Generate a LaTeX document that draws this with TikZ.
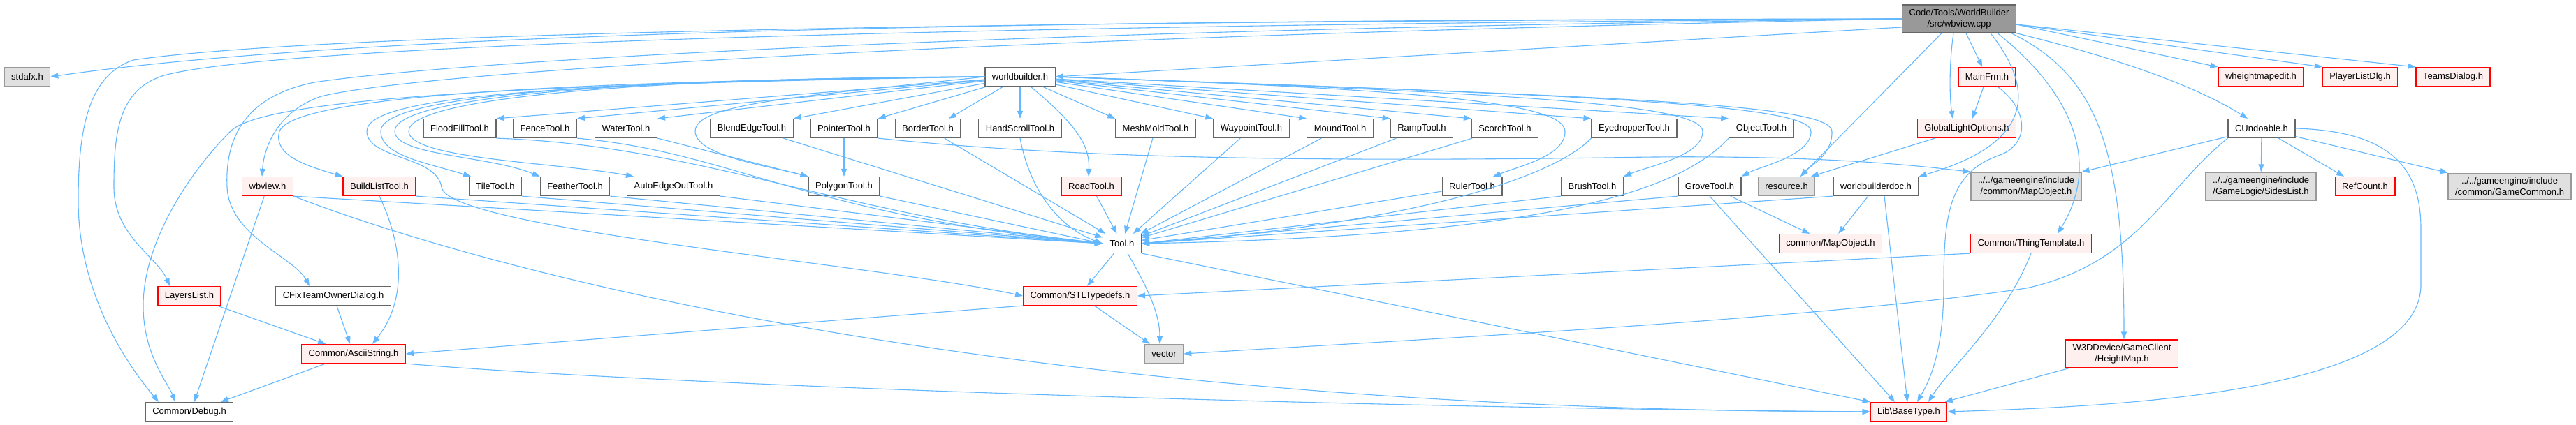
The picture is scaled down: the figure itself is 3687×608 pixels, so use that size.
\documentclass[tikz,border=0pt]{standalone}
\usepackage{fontspec}
\setmainfont{Liberation Sans}
\usetikzlibrary{arrows.meta}
\definecolor{depblue}{HTML}{63B8FF}
\definecolor{boxgray}{HTML}{666666}
\definecolor{boxred}{HTML}{FF0000}
\definecolor{boxpink}{HTML}{FFF0F0}
\definecolor{sysgray}{HTML}{999999}
\definecolor{sysfill}{HTML}{E0E0E0}
\definecolor{rootfill}{HTML}{999999}

\begin{document}
\begin{tikzpicture}[x=1pt,y=1pt,
  hdr/.style={draw=boxgray,fill=white,line width=1.2pt,minimum height=27pt,
    inner xsep=10pt,inner ysep=6pt,font=\fontsize{13}{16}\selectfont,align=center},
  redhdr/.style={hdr,draw=boxred,fill=boxpink},
  syshdr/.style={hdr,draw=sysgray,fill=sysfill},
  roothdr/.style={hdr,draw=boxgray,fill=rootfill},
  dep/.style={draw=depblue,line width=1.1pt,-{Triangle[length=11pt,width=8pt]}}]
\fill[white] (0,0) rectangle (3687,608);
\useasboundingbox (0,0) rectangle (3687,608);
% top rows
\node[roothdr] (wbv) at (2804,581) {Code/Tools/WorldBuilder\\/src/wbview.cpp};
\node[syshdr] (stdafx) at (39,498) {stdafx.h};
\node[hdr] (wbuilder) at (1460,498) {worldbuilder.h};
\node[redhdr] (mainfrm) at (2844,498) {MainFrm.h};
\node[redhdr] (wheight) at (3236,498) {wheightmapedit.h};
\node[redhdr] (plist) at (3378,498) {PlayerListDlg.h};
\node[redhdr] (teams) at (3511,498) {TeamsDialog.h};
% tools, first row
\node[hdr] (flood) at (658,424) {FloodFillTool.h};
\node[hdr] (fence) at (780,424) {FenceTool.h};
\node[hdr] (water) at (896,424) {WaterTool.h};
\node[hdr] (blend) at (1076,424) {BlendEdgeTool.h};
\node[hdr] (pointer) at (1208,424) {PointerTool.h};
\node[hdr] (border) at (1328,424) {BorderTool.h};
\node[hdr] (hscroll) at (1460,424) {HandScrollTool.h};
\node[hdr] (mesh) at (1654,424) {MeshMoldTool.h};
\node[hdr] (waypt) at (1791,424) {WaypointTool.h};
\node[hdr] (mound) at (1918,424) {MoundTool.h};
\node[hdr] (ramp) at (2035,424) {RampTool.h};
\node[hdr] (scorch) at (2154,424) {ScorchTool.h};
\node[hdr] (eyedrop) at (2339,424) {EyedropperTool.h};
\node[hdr] (object) at (2521,424) {ObjectTool.h};
\node[redhdr] (glight) at (2815,424) {GlobalLightOptions.h};
\node[hdr] (cundo) at (3237,424) {CUndoable.h};
% tools, second row
\node[redhdr] (wbviewh) at (383,341) {wbview.h};
\node[redhdr] (buildlist) at (543,341) {BuildListTool.h};
\node[hdr] (tile) at (709,341) {TileTool.h};
\node[hdr] (feather) at (823,341) {FeatherTool.h};
\node[hdr] (autoedge) at (964,341) {AutoEdgeOutTool.h};
\node[hdr] (polygon) at (1208,341) {PolygonTool.h};
\node[redhdr] (road) at (1562,341) {RoadTool.h};
\node[hdr] (ruler) at (2107,341) {RulerTool.h};
\node[hdr] (brush) at (2279,341) {BrushTool.h};
\node[hdr] (grove) at (2447,341) {GroveTool.h};
\node[syshdr] (resource) at (2557,341) {resource.h};
\node[hdr] (wbdoc) at (2685,341) {worldbuilderdoc.h};
\node[syshdr] (gemapobj) at (2900,341) {../../gameengine/include\\/common/MapObject.h};
\node[syshdr] (sides) at (3236,341) {../../gameengine/include\\/GameLogic/SidesList.h};
\node[redhdr] (refcount) at (3385,341) {RefCount.h};
\node[syshdr] (gamecommon) at (3592,341) {../../gameengine/include\\/common/GameCommon.h};
% lower rows
\node[hdr] (tool) at (1606,259) {Tool.h};
\node[redhdr] (mapobj) at (2620,259) {common/MapObject.h};
\node[redhdr] (thing) at (2907,259) {Common/ThingTemplate.h};
\node[redhdr] (layers) at (271,184) {LayersList.h};
\node[hdr] (cfix) at (477,184) {CFixTeamOwnerDialog.h};
\node[redhdr] (stl) at (1546,184) {Common/STLTypedefs.h};
\node[redhdr] (ascii) at (506,101) {Common/AsciiString.h};
\node[syshdr] (vector) at (1666,101) {vector};
\node[redhdr] (heightmap) at (3037,101) {W3DDevice/GameClient\\/HeightMap.h};
\node[hdr] (debug) at (271,18) {Common/Debug.h};
\node[redhdr] (basetype) at (2732,18) {Lib\textbackslash BaseType.h};
% from wbview.cpp
\draw[dep] (wbv.west) .. controls (1400,580) and (500,560) .. (stdafx.east);
\draw[dep] (wbv.west) .. controls (1400,578) and (450,560) .. (191,522) .. controls (125,500) and (112,420) .. (112,320) .. controls (112,200) and (170,100) .. ([xshift=-44pt]debug.north);
\draw[dep] (wbv.west) .. controls (1400,572) and (400,545) .. (235,500) .. controls (170,480) and (163,420) .. (163,340) .. controls (163,270) and (225,240) .. ([xshift=-28pt]layers.north);
\draw[dep] (wbv.west) .. controls (1400,565) and (650,520) .. (450,490) .. controls (350,470) and (322,410) .. (325,340) .. controls (328,270) and (420,240) .. ([xshift=-34pt]cfix.north);
\draw[dep] (wbv.west) .. controls (1400,555) and (600,505) .. (460,470) .. controls (400,450) and (378,400) .. ([xshift=-8pt]wbviewh.north);
\draw[dep] ([yshift=-12pt]wbv.west) -- (wbuilder.east);
\draw[dep] (wbv) -- (mainfrm);
\draw[dep] ([xshift=-8pt]wbv.south) .. controls (2790,520) and (2790,470) .. ([xshift=-20pt]glight.north);
\draw[dep] ([xshift=-25pt]wbv.south) -- ([xshift=20pt]resource.north);
\draw[dep] ([xshift=45pt]wbv.south) .. controls (2920,470) and (2900,400) .. (wbdoc.north east);
\draw[dep] ([xshift=55pt]wbv.south) .. controls (2960,480) and (3010,380) .. ([xshift=38pt]thing.north);
\draw[dep] ([xshift=75pt]wbv.south) .. controls (3000,500) and (3040,400) .. ([xshift=3pt]heightmap.north);
\draw[dep] (wbv.south east) .. controls (3050,520) and (3150,480) .. ([xshift=-20pt]cundo.north);
\foreach \t in {wheight,plist,teams}
  \draw[dep] ([yshift=-8pt]wbv.east) -- (\t.north west);
% from worldbuilder.h
\foreach \t in {flood,fence,water,blend,pointer}
  \draw[dep] (wbuilder) -- (\t.north east);
\draw[dep] (wbuilder) -- ([xshift=30pt]border.north);
\draw[dep] (wbuilder) -- (hscroll);
\foreach \t in {mesh,waypt,mound,ramp,scorch,eyedrop,object}
  \draw[dep] (wbuilder) -- (\t.north west);
\draw[dep] (wbuilder.west) .. controls (800,492) and (420,470) .. (400,420) .. controls (390,385) and (440,370) .. (buildlist.north west);
\draw[dep] (wbuilder.west) .. controls (850,494) and (545,470) .. (545,420) .. controls (545,385) and (610,375) .. ([xshift=-35pt]tile.north);
\draw[dep] (wbuilder.west) .. controls (900,496) and (565,470) .. (565,420) .. controls (565,385) and (700,385) .. (feather.north west);
\draw[dep] (wbuilder.west) .. controls (950,497) and (585,470) .. (585,420) .. controls (585,380) and (800,375) .. ([xshift=-57pt]autoedge.north);
\draw[dep] (wbuilder.west) .. controls (1150,470) and (995,460) .. (995,420) .. controls (995,385) and (1100,370) .. (polygon.north west);
\draw[dep] ([xshift=15pt]wbuilder.south) .. controls (1540,430) and (1560,400) .. ([xshift=-4pt]road.north);
\draw[dep] (wbuilder.east) .. controls (2050,480) and (2238,460) .. (2240,420) .. controls (2241,385) and (2175,370) .. ([xshift=30pt]ruler.north);
\draw[dep] (wbuilder.east) .. controls (2150,475) and (2435,460) .. (2437,420) .. controls (2438,385) and (2360,370) .. (brush.north east);
\draw[dep] (wbuilder.east) .. controls (2250,472) and (2590,460) .. (2592,420) .. controls (2593,385) and (2520,370) .. (grove.north east);
\draw[dep] (wbuilder.east) .. controls (2300,470) and (2620,460) .. (2622,420) .. controls (2623,385) and (2590,370) .. ([xshift=20pt]resource.north);
\draw[dep] (wbuilder.west) .. controls (800,490) and (525,470) .. (525,420) .. controls (525,380) and (625,385) .. (632,340) .. controls (640,280) and (1250,230) .. (stl.west);
\draw[dep] (wbuilder.west) .. controls (800,488) and (380,470) .. (330,420) .. controls (270,360) and (205,260) .. (205,170) .. controls (205,100) and (240,60) .. ([xshift=-20pt]debug.north);
% into Tool.h
\draw[dep] (flood.south east) .. controls (1000,400) and (1200,300) .. (tool.west);
\draw[dep] (fence.south east) .. controls (1050,390) and (1150,300) .. (tool.west);
\foreach \t in {tile,feather,autoedge,polygon,buildlist,wbviewh}
  \draw[dep] (\t.south east) -- (tool.west);
\draw[dep] (hscroll.south) .. controls (1475,330) and (1520,280) .. (tool.west);
\foreach \t in {blend,border,mesh,waypt,mound,ramp,scorch,road,ruler}
  \draw[dep] (\t) -- (tool);
\draw[dep] (eyedrop.south west) .. controls (2230,360) and (2050,290) .. (tool.east);
\draw[dep] (object.south west) .. controls (2400,330) and (2200,270) .. (tool.east);
\foreach \t in {brush,grove,wbdoc}
  \draw[dep] (\t.south west) -- (tool.east);
% other headers
\draw[dep] (pointer) -- (polygon);
\draw[dep] (water.south east) -- (polygon.north west);
\draw[dep] (pointer.south east) .. controls (1500,385) and (1800,375) .. (2300,382) .. controls (2600,388) and (2750,370) .. (gemapobj.north west);
\draw[dep] (glight) -- ([xshift=35pt]resource.north);
\draw[dep] (mainfrm) -- ([xshift=8pt]glight.north);
\draw[dep] ([xshift=15pt]mainfrm.south) .. controls (2905,450) and (2905,400) .. (2860,385) .. controls (2790,360) and (2782,300) .. (2782,200) .. controls (2782,100) and (2760,60) .. ([xshift=12pt]basetype.north);
\draw[dep] (wbdoc) -- (mapobj);
\draw[dep] ([xshift=12pt]wbdoc.south) -- ([xshift=-2pt]basetype.north);
\draw[dep] (grove) -- (mapobj);
\draw[dep] (grove.south) -- ([xshift=-20pt]basetype.north);
\draw[dep] (thing.south) .. controls (2870,150) and (2790,80) .. ([xshift=28pt]basetype.north);
\draw[dep] (thing.south west) -- (stl.east);
\draw[dep] (heightmap) -- (basetype);
\draw[dep] (cundo) -- (gemapobj.north east);
\draw[dep] (cundo) -- (sides);
\draw[dep] (cundo) -- ([xshift=-30pt]refcount.north);
\draw[dep] (cundo) -- (gamecommon.north west);
\draw[dep] (cundo.east) .. controls (3430,420) and (3465,360) .. (3465,280) -- (3465,200) .. controls (3465,40) and (3000,25) .. (basetype.east);
\draw[dep] (cundo.south west) .. controls (3100,340) and (3060,230) .. (2900,195) .. controls (2600,150) and (2000,120) .. (vector.east);
\draw[dep] (tool) -- ([xshift=10pt]stl.north);
\draw[dep] ([xshift=8pt]tool.south) .. controls (1640,200) and (1660,160) .. ([xshift=-6pt]vector.north);
\draw[dep] (tool.south east) -- (basetype.north west);
\draw[dep] (stl) -- (vector);
\draw[dep] (stl.south west) -- (ascii.east);
\draw[dep] (buildlist.south) .. controls (575,260) and (585,180) .. ([xshift=27pt]ascii.north);
\draw[dep] (layers) -- (ascii);
\draw[dep] (cfix) -- (ascii);
\draw[dep] ([xshift=-40pt]ascii.south) -- ([xshift=45pt]debug.north);
\draw[dep] (ascii.south east) .. controls (900,60) and (1800,25) .. (basetype.west);
\draw[dep] (wbviewh) -- ([xshift=7pt]debug.north);
\draw[dep] (wbviewh.south east) .. controls (750,200) and (1500,20) .. (basetype.west);
\end{tikzpicture}
\end{document}
